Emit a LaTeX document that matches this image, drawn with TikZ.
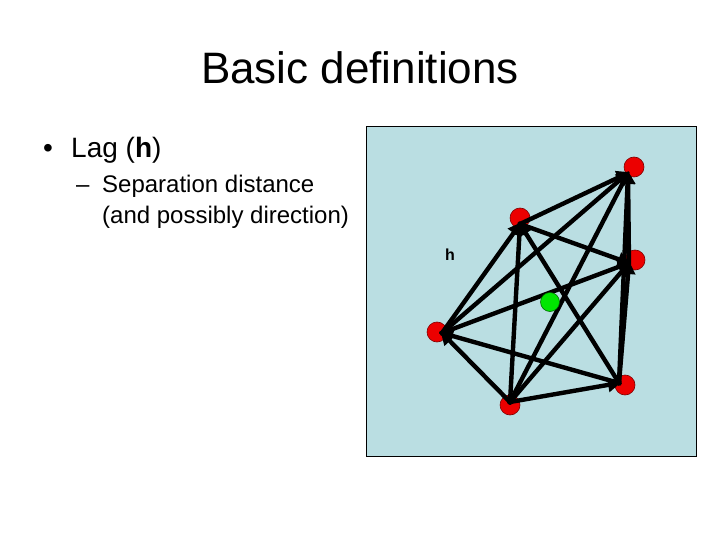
\documentclass[tikz,border=0pt]{standalone}
\usepackage{fontspec}
\setmainfont{Liberation Sans}
\usetikzlibrary{arrows.meta}
\definecolor{panel}{RGB}{186,222,226}
\definecolor{ptred}{RGB}{236,0,0}
\definecolor{ptgreen}{RGB}{0,230,0}
\tikzset{
  pt/.style={circle,fill=ptred,draw=red!50!black,line width=0.6pt,minimum size=20pt,inner sep=0pt},
  gpt/.style={circle,fill=ptgreen,draw=green!40!black,line width=0.6pt,minimum size=19pt,inner sep=0pt},
  lag/.style={line width=4.4pt,-{Triangle[length=13pt,width=14pt]},shorten >=-2pt,shorten <=-2pt},
}
\begin{document}
\begin{tikzpicture}[x=1pt,y=-1pt]
\useasboundingbox (0,0) rectangle (720,540);
% texts
\node[anchor=base,font=\fontsize{44}{52}\selectfont,inner sep=0pt] (title) at (360,84) {Basic definitions};
\node[anchor=base west,font=\fontsize{28}{34}\selectfont,inner sep=0pt] (b1) at (43,158) {\textbullet};
\node[anchor=base west,font=\fontsize{28}{34}\selectfont,inner sep=0pt] (t1) at (71,158) {Lag (\textbf{h})};
\node[anchor=base west,font=\fontsize{24}{29}\selectfont,inner sep=0pt] (b2) at (76,193) {–};
\node[anchor=base west,font=\fontsize{24}{29}\selectfont,inner sep=0pt] (t2) at (102,193) {Separation distance};
\node[anchor=base west,font=\fontsize{24}{29}\selectfont,inner sep=0pt] (t3) at (102,223) {(and possibly direction)};
% panel
\draw[fill=panel,draw=black,line width=0.8pt] (366,126) rectangle (696,456);
\node[font=\fontsize{16}{18}\selectfont\bfseries,inner sep=0pt] (h) at (450,255) {h};
% points
\node[pt] (p1) at (634,167) {};
\node[pt] (p2) at (520,218) {};
\node[pt] (p3) at (635,260) {};
\node[pt] (p4) at (437,332) {};
\node[pt] (p5) at (510,405) {};
\node[pt] (p6) at (625,385) {};
% connector ends
\coordinate (c1) at (628,173);
\coordinate (c2) at (520,224);
\coordinate (c3) at (629,263);
\coordinate (c4) at (442,333);
\coordinate (c5) at (510,402);
\coordinate (c6) at (619,383);
% connectors
\draw[lag] (c5) -- (c4);
\draw[lag] (c5) -- (c6);
\draw[lag] (c5) -- (c2);
\draw[lag] (c5) -- (c1);
\draw[lag] (c5) -- (c3);
\draw[lag] (c6) -- (c4);
\draw[lag] (c6) -- (c3);
\draw[lag] (c6) -- (c2);
\draw[lag] (c6) -- (c1);
\draw[lag] (c4) -- (c2);
\draw[lag] (c4) -- (c1);
\draw[lag] (c4) -- (c3);
\draw[lag] (c2) -- (c3);
\draw[lag] (c3) -- (c1);
\draw[lag] (c2) -- (c1);
\node[gpt] (g) at (550,302) {};
\end{tikzpicture}
\end{document}
